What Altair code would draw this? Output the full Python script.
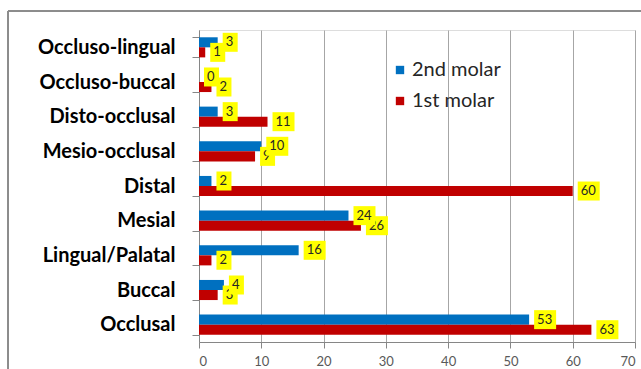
import altair as alt
import pandas as pd

categories = ["Occluso-lingual", "Occluso-buccal", "Disto-occlusal", "Mesio-occlusal",
              "Distal", "Mesial", "Lingual/Palatal", "Buccal", "Occlusal"]
second_molar = [3, 0, 3, 10, 2, 24, 16, 4, 53]
first_molar = [1, 2, 11, 9, 60, 26, 2, 3, 63]
series = ["2nd molar", "1st molar"]
colors = ["#0070C0", "#C00000"]
x_ticks = [0, 10, 20, 30, 40, 50, 60, 70]

rows = []
for c, a, b in zip(categories, second_molar, first_molar):
    rows.append({"cat": c, "series": "2nd molar", "value": a})
    rows.append({"cat": c, "series": "1st molar", "value": b})
df = pd.DataFrame(rows)

FONT = "Lato"

y_enc = alt.Y("cat:N", sort=categories, title=None,
              scale=alt.Scale(paddingInner=0.42, paddingOuter=0.21),
              axis=alt.Axis(labelFontSize=20, labelFontWeight="bold", labelColor="#000000",
                            labelFont=FONT, domainColor="#868686", tickColor="#868686",
                            tickBand="extent", tickSize=7, labelPadding=17, grid=False))
yoff_enc = alt.YOffset("series:N", sort=series, scale=alt.Scale(paddingInner=0, paddingOuter=0))
x_enc = alt.X("value:Q", title=None,
              scale=alt.Scale(domain=[0, 70], nice=False),
              axis=alt.Axis(values=x_ticks, grid=True, gridColor="#A6A6A6", domainColor="#868686",
                            tickColor="#868686", tickSize=6, labelFontSize=13, labelFont=FONT,
                            labelColor="#595959", labelPadding=7))

base = alt.Chart(df)

bars = base.mark_bar().encode(
    x=x_enc,
    y=y_enc,
    yOffset=yoff_enc,
    color=alt.Color("series:N", sort=series,
                    scale=alt.Scale(domain=series, range=colors),
                    legend=alt.Legend(title=None, orient="none", legendX=191, legendY=30,
                                      symbolType="square", symbolSize=70, symbolStrokeWidth=0,
                                      labelFontSize=20, labelFont=FONT, labelColor="#262626",
                                      labelOffset=2, rowPadding=11)),
)

layers = [bars]
for s in ["1st molar", "2nd molar"]:
    sb = base.transform_filter(alt.datum.series == s).transform_calculate(
        nd="length(toString(datum.value))")
    box1 = sb.transform_filter("datum.nd == 1").mark_bar(
        color="#FFFF00", height=19, xOffset=5, x2Offset=20).encode(
        x="value:Q", x2="value:Q", y=alt.Y("cat:N", sort=categories), yOffset=yoff_enc)
    box2 = sb.transform_filter("datum.nd == 2").mark_bar(
        color="#FFFF00", height=19, xOffset=5, x2Offset=27).encode(
        x="value:Q", x2="value:Q", y=alt.Y("cat:N", sort=categories), yOffset=yoff_enc)
    txt = sb.mark_text(align="left", baseline="middle", dx=8, fontSize=13, font=FONT,
                       color="#262626").encode(
        x="value:Q", y=alt.Y("cat:N", sort=categories), yOffset=yoff_enc,
        text=alt.Text("value:Q"))
    layers += [box1, box2, txt]

frame_top = alt.Chart(df).mark_rule(color="#8C8C8C", strokeWidth=1).encode(
    x=alt.value(-191), x2=alt.value(445), y=alt.value(-19))
frame_left = alt.Chart(df).mark_rule(color="#8C8C8C", strokeWidth=1).encode(
    x=alt.value(-191), y=alt.value(-19), y2=alt.value(345))
layers += [frame_top, frame_left]

chart = alt.layer(*layers).properties(
    width=436, height=312,
    autosize=alt.AutoSizeParams(type="none"),
    padding={"left": 199, "top": 30, "right": 6, "bottom": 27},
).configure_view(stroke=None).configure(background="white")

chart.save("out.html", embed_options={"renderer": "svg", "actions": False})
